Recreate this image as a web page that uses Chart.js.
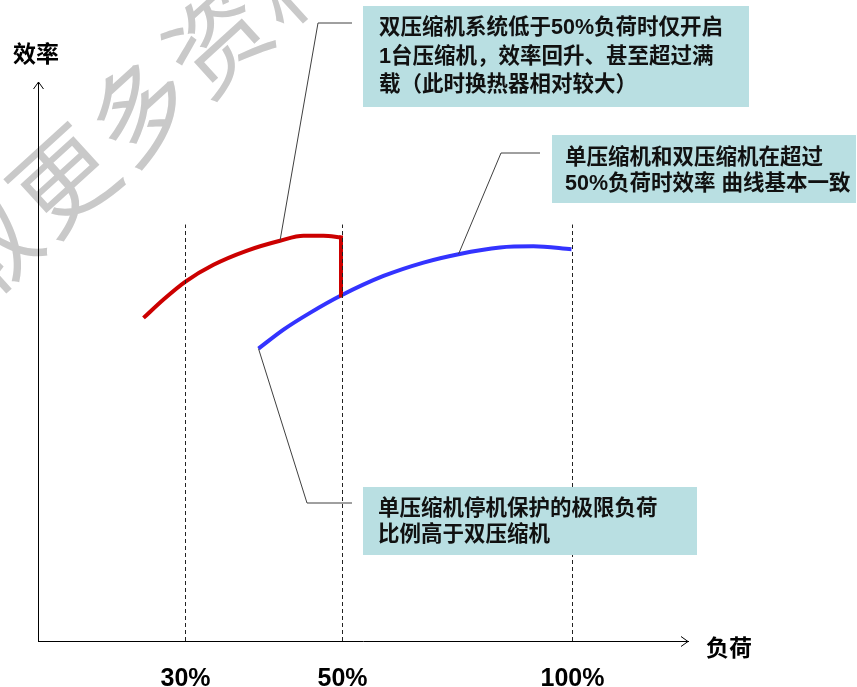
<!DOCTYPE html>
<html>
<head>
<meta charset="utf-8">
<script src="https://cdn.jsdelivr.net/npm/chart.js@4/dist/chart.umd.min.js"></script>
<style>
    html, body { margin: 0; padding: 0; background: #ffffff; }
    #wrap { width: 857px; height: 687px; }
</style>
</head>
<body>
<div id="wrap"><canvas id="myChart" width="857" height="687"></canvas></div>
<script>
// Eje de carga (posición relativa) y sus etiquetas
const loadPos = [29.5, 60.9, 106.9];
const loadLabels = ['30%', '50%', '100%'];
const guideTop = 74.5; // altura de las líneas discontinuas

// Curva del sistema de doble compresor (rojo)
const dualX = [21.1, 25.1, 29.5, 35.1, 41.7, 48.4, 53.1, 57.1, 60.6];
const dualY = [57.8, 61.1, 64.3, 67.3, 69.8, 71.6, 72.5, 72.5, 72.2];
// Salto vertical al 50%
const dropX = [60.6, 60.6];
const dropY = [72.2, 61.8];

// Curva del compresor simple (azul)
const singleX = [44.1, 49.1, 54.4, 60.6, 69.1, 77.1, 84.1, 92.4, 99.1, 106.7];
const singleY = [52.3, 55.7, 58.7, 61.8, 65.3, 67.7, 69.2, 70.4, 70.6, 70.1];

// Textos
const yTitle = '效率';
const xTitle = '负荷';
const watermark = '获取更多资料';
const note1 = ['双压缩机系统低于50%负荷时仅开启', '1台压缩机，效率回升、甚至超过满', '载（此时换热器相对较大）'];
const note2 = ['单压缩机和双压缩机在超过', '50%负荷时效率 曲线基本一致'];
const note3 = ['单压缩机停机保护的极限负荷', '比例高于双压缩机'];

const toPoints = (xs, ys) => xs.map((x, i) => ({ x: x, y: ys[i] }));

const guides = loadPos.map(p => ({
    data: [{ x: p, y: 0 }, { x: p, y: guideTop }],
    borderColor: '#222222',
    borderWidth: 1,
    borderDash: [4, 3],
    pointRadius: 0,
    tension: 0
}));

const CJK = '"Liberation Sans", "Noto Sans CJK SC", sans-serif';

// Plugin: fondo, marca de agua, flechas, títulos y notas
const decor = {
    id: 'decor',
    beforeDraw(chart) {
        const c = chart.ctx;
        c.save();
        c.fillStyle = '#ffffff';
        c.fillRect(0, 0, chart.width, chart.height);
        // marca de agua
        c.translate(63, 180);
        c.rotate(-42.3 * Math.PI / 180);
        c.fillStyle = '#c9c9c9';
        c.font = '100px "Noto Sans CJK SC"';
        c.textAlign = 'center';
        c.textBaseline = 'middle';
        [...watermark].forEach((ch, i) => c.fillText(ch, (i - 2) * 104, 0));
        c.restore();
    },
    afterDraw(chart) {
        const c = chart.ctx;
        const a = chart.chartArea;
        const xs = chart.scales.x;
        const ys = chart.scales.y;
        c.save();

        // flechas de los ejes
        c.strokeStyle = '#000000';
        c.lineWidth = 1;
        c.beginPath();
        c.moveTo(a.left - 4.5, a.top + 7); c.lineTo(a.left + 0.5, a.top); c.lineTo(a.left + 5.5, a.top + 7);
        c.moveTo(a.right - 7, a.bottom - 4.5); c.lineTo(a.right, a.bottom + 0.5); c.lineTo(a.right - 7, a.bottom + 5.5);
        c.stroke();

        // etiquetas del eje de carga
        c.fillStyle = '#000000';
        c.font = 'bold 25px "Liberation Sans"';
        c.textAlign = 'center';
        c.textBaseline = 'middle';
        loadPos.forEach((p, i) => c.fillText(loadLabels[i], xs.getPixelForValue(p), a.bottom + 38));

        // títulos de los ejes
        c.font = 'bold 23px "Noto Sans CJK SC"';
        c.fillText(yTitle, 36, 53);
        c.fillText(xTitle, 729, 647);

        // líneas guía de las notas (ancladas a puntos de las curvas)
        const px = (xv, yv) => [xs.getPixelForValue(xv), ys.getPixelForValue(yv)];
        const leaders = [
            [[352, 23], [318, 23], px(dualX[5], dualY[5])],
            [[540, 153], [501, 153], px(singleX[6], singleY[6])],
            [[352, 503], [307, 503], px(singleX[0], singleY[0])]
        ];
        c.strokeStyle = '#404040';
        c.lineWidth = 1;
        leaders.forEach(l => {
            c.beginPath();
            c.moveTo(l[0][0], l[0][1]);
            c.lineTo(l[1][0], l[1][1]);
            c.lineTo(l[2][0], l[2][1]);
            c.stroke();
        });

        // cuadros de notas
        const boxes = [
            { r: [363, 6, 386, 101], tx: 379, ty: [28.5, 57, 85.5], lines: note1 },
            { r: [552, 135, 304, 68], tx: 565, ty: [158, 184], lines: note2 },
            { r: [363, 487, 334, 68], tx: 378, ty: [509, 535], lines: note3 }
        ];
        boxes.forEach(b => {
            c.fillStyle = '#b9dfe2';
            c.fillRect(b.r[0], b.r[1], b.r[2], b.r[3]);
            c.fillStyle = '#111111';
            c.font = 'bold 21.5px ' + CJK;
            c.textAlign = 'left';
            c.textBaseline = 'middle';
            b.lines.forEach((t, i) => c.fillText(t, b.tx, b.ty[i]));
        });
        c.restore();
    }
};

// Crear instancia del gráfico
const ctx = document.getElementById('myChart').getContext('2d');
const chart = new Chart(ctx, {
    type: 'line',
    data: {
        datasets: [
            ...guides,
            {
                data: toPoints(dualX, dualY),
                borderColor: '#cc0000',
                borderWidth: 4,
                pointRadius: 0,
                cubicInterpolationMode: 'monotone'
            },
            {
                data: toPoints(dropX, dropY),
                borderColor: '#cc0000',
                borderWidth: 4,
                borderCapStyle: 'square',
                pointRadius: 0,
                tension: 0
            },
            {
                data: toPoints(singleX, singleY),
                borderColor: '#3333ff',
                borderWidth: 4,
                pointRadius: 0,
                cubicInterpolationMode: 'monotone'
            }
        ]
    },
    options: {
        responsive: false,
        animation: false,
        devicePixelRatio: 1,
        layout: { padding: { left: 38, top: 82, right: 169, bottom: 46 } },
        plugins: { legend: { display: false }, tooltip: { enabled: false } },
        scales: {
            x: {
                type: 'linear',
                min: 0,
                max: 130,
                grid: { display: true, drawOnChartArea: false, drawTicks: false },
                border: { display: true, color: '#000000', width: 1 },
                ticks: { display: false }
            },
            y: {
                type: 'linear',
                min: 0,
                max: 100,
                grid: { display: true, drawOnChartArea: false, drawTicks: false },
                border: { display: true, color: '#000000', width: 1 },
                ticks: { display: false }
            }
        }
    },
    plugins: [decor]
});
</script>
</body>
</html>
